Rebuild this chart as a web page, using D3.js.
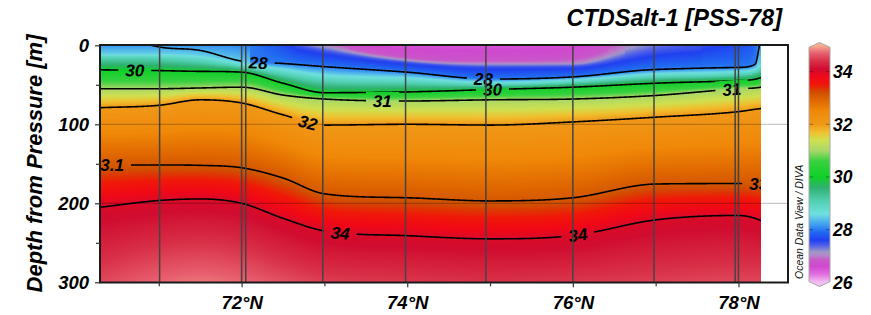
<!DOCTYPE html>
<html><head><meta charset="utf-8">
<script src="https://cdn.jsdelivr.net/npm/d3@7"></script>
<style>
html,body{margin:0;padding:0;background:#fff;}
svg{display:block;font-family:"Liberation Sans",Arial,sans-serif;}
</style></head><body>
<svg id="chart" width="871" height="315"></svg>
<script>
// ---------------- data ----------------
const gridLats   = [70.29, 71.0, 71.5, 72.0, 72.5, 73.0, 74.0, 75.0, 76.0, 77.0, 78.0, 78.2, 78.27];
const surfaceSal = [28.15, 28.15, 28.12, 28.05, 27.7, 27.05, 26.5, 26.5, 26.55, 27.3, 27.7, 27.9, 28.25];
const bottomSal  = [34.55, 34.72, 34.78, 34.72, 34.6, 34.5, 34.45, 34.42, 34.45, 34.5, 34.55, 34.55, 34.55];
const isoLevels  = [26.8, 27, 27.5, 28, 28.5, 29, 30, 31, 32, 33.1, 34];
const depth26_8  = [-80, -70, -60, -50, -35, -6, 15, 19, 16, -20, -40, -50, -55];
const depth27    = [-60, -50, -45, -40, -25, -2, 18, 22.5, 22, -10, -30, -40, -45];
const depth27_5  = [-50, -40, -30, -15, -3, 8, 22, 27.5, 27, 9, -5, -15, -25];
const depth28    = [-20, 2, 6.5, 20, 23, 27, 34, 42.7, 40, 30.6, 28, 24, -10];
const depth28_5  = [11, 11, 13, 22, 29, 36, 40, 46, 43, 35, 32, 29, 22];
const depth29    = [15, 16, 20, 27, 36, 44, 47, 50, 47, 40, 37, 34, 30];
const depth30    = [31, 32, 33, 34, 48, 60, 59, 56, 53, 48, 44.5, 43, 41];
const depth31    = [55, 55, 54, 53, 63, 68, 70.5, 69, 68, 63.5, 55, 54, 53];
const depth32    = [79, 76, 69, 73, 88, 101, 100, 101, 97, 91, 84, 81, 80];
const depth33    = [151.5, 151.5, 152, 155, 168, 188, 193, 197, 193, 175.6, 175, 175, 175];
const depth34    = [205, 196.5, 194.5, 200, 219, 235, 241, 245, 240.8, 221, 215.4, 219, 222];
const isoDepths  = [depth26_8, depth27, depth27_5, depth28, depth28_5, depth29, depth30, depth31, depth32, depth33, depth34];

const contourLevels = [28, 30, 31, 32, 33.1, 34];
const labelLevel = [30, 28, 32, 31, 28, 30, 31, 33.1, 33.1, 34, 34];
const labelLat   = [70.71, 72.2, 72.8, 73.7, 74.92, 75.03, 77.92, 70.38, 78.33, 73.19, 76.06];
const labelText  = ["30", "28", "32", "31", "28", "30", "31", "33.1", "33.1", "34", "34"];

const stationLats = [71.01, 72.0, 72.05, 72.98, 73.98, 74.95, 76.0, 76.98, 77.96, 78.0];
const xTicksMajor = [72, 74, 76, 78];
const xTicksMinor = [71, 73, 75, 77];
const yTicksMajor = [0, 100, 200, 300];
const yTicksMinor = [50, 150, 250];
const gridDepths  = [100, 200];
const cbarTicks   = [26, 28, 30, 32, 34];

const salStops  = [26.0, 26.3, 26.6, 26.85, 27.0, 27.15, 27.4, 27.6, 27.9, 28.2, 28.6, 29.1, 29.6, 30.0, 30.6, 31.0, 31.4, 31.7, 32.0, 32.5, 32.9, 33.2, 33.5, 33.8, 34.1, 34.4, 34.7, 35.0];
const salColors = ["#f4c0f4","#e070e0","#d048d0","#c858c8","#b880c8","#a098c8","#5060e8","#2040f0","#2068f0","#40a0f0","#70e0e0","#50d0b0","#30b070","#10d028","#38d040","#a8d868","#d0e050","#f0c030","#f09818","#f08808","#e06800","#d05000","#f01808","#f00818","#d00c30","#d83048","#e86070","#f8b090"];

// ---------------- layout ----------------
const svg = d3.select("#chart");
const X0 = 100, XR = 788, XD = 761, Y0 = 45.3, Y1 = 282.3;
const x = d3.scaleLinear().domain([70.29, 78.598]).range([X0, XR]);
const y = d3.scaleLinear().domain([0, 300]).range([Y0, Y1]);
const color = d3.scaleLinear().domain(salStops).range(salColors).clamp(true);
const latEnd = x.invert(XD);

// monotone cubic interpolation across latitude (display smoothing)
function monotone(xs, ys) {
  const n = xs.length, d = [], m = new Array(n);
  for (let i = 0; i < n - 1; i++) d.push((ys[i+1]-ys[i])/(xs[i+1]-xs[i]));
  m[0] = d[0]; m[n-1] = d[n-2];
  for (let i = 1; i < n - 1; i++) m[i] = (d[i-1]*d[i] <= 0) ? 0 : (d[i-1]+d[i])/2;
  for (let i = 0; i < n - 1; i++) {
    if (d[i] === 0) { m[i] = 0; m[i+1] = 0; continue; }
    const a = m[i]/d[i], b = m[i+1]/d[i], s = a*a + b*b;
    if (s > 9) { const t = 3/Math.sqrt(s); m[i] = t*a*d[i]; m[i+1] = t*b*d[i]; }
  }
  return v => {
    if (v <= xs[0]) return ys[0];
    if (v >= xs[n-1]) return ys[n-1];
    const i = Math.min(n-2, d3.bisectRight(xs, v) - 1);
    const h = xs[i+1]-xs[i], t = (v-xs[i])/h, t2 = t*t, t3 = t2*t;
    return (2*t3-3*t2+1)*ys[i] + (t3-2*t2+t)*h*m[i] + (-2*t3+3*t2)*ys[i+1] + (t3-t2)*h*m[i+1];
  };
}
const fS0 = monotone(gridLats, surfaceSal);
const fSb = monotone(gridLats, bottomSal);
const fIso = isoDepths.map(a => monotone(gridLats, a));
const isoFn = lvl => fIso[isoLevels.indexOf(lvl)];

function profileAt(lat) {
  const pts = [[0, fS0(lat)]];
  isoLevels.forEach((L, k) => {
    const dd = fIso[k](lat), last = pts[pts.length-1];
    if (dd > last[0] && dd < 300 && L > last[1]) pts.push([dd, L]);
  });
  const last = pts[pts.length-1];
  pts.push([300, Math.max(fSb(lat), last[1])]);
  return pts;
}

// ---------------- colour field (raster image) ----------------
const W = XD - X0, H = Math.round(Y1 - Y0);
const cv = document.createElement("canvas");
cv.width = W; cv.height = H;
const ctx = cv.getContext("2d");
const img = ctx.createImageData(W, H);
for (let i = 0; i < W; i++) {
  const lat = x.invert(X0 + i + 0.5);
  const pts = profileAt(lat);
  let k = 0;
  for (let j = 0; j < H; j++) {
    const dep = y.invert(Y0 + j + 0.5);
    while (k < pts.length - 2 && dep > pts[k+1][0]) k++;
    const a = pts[k], b = pts[k+1];
    const t = Math.max(0, Math.min(1, (dep - a[0])/(b[0]-a[0])));
    const v = a[1] + t*(b[1]-a[1]);
    const c = d3.rgb(color(v));
    const o = (j*W + i)*4;
    img.data[o] = c.r; img.data[o+1] = c.g; img.data[o+2] = c.b; img.data[o+3] = 255;
  }
}
ctx.putImageData(img, 0, 0);

const defs = svg.append("defs");
defs.append("clipPath").attr("id", "dataClip")
  .append("rect").attr("x", X0).attr("y", Y0).attr("width", XD - X0).attr("height", Y1 - Y0);

svg.append("image").attr("x", X0).attr("y", Y0).attr("width", W).attr("height", H)
  .attr("preserveAspectRatio", "none").attr("href", cv.toDataURL());

// ---------------- contour lines with label gaps ----------------
const labels = labelLevel.map((lv, i) => {
  const lat = labelLat[i], f = isoFn(lv);
  const px = x(lat), py = y(f(lat));
  const dy = y(f(lat + 0.05)) - y(f(lat - 0.05)), dx = x(lat + 0.05) - x(lat - 0.05);
  const ang = Math.atan2(dy, dx) * 180 / Math.PI;
  return {px, py, ang, text: labelText[i]};
});
const mask = defs.append("mask").attr("id", "labelMask").attr("maskUnits", "userSpaceOnUse")
  .attr("x", 0).attr("y", 0).attr("width", 871).attr("height", 315);
mask.append("rect").attr("width", 871).attr("height", 315).attr("fill", "#fff");

const lineGen = d3.line().x(d => x(d[0])).y(d => y(d[1]));
const cg = svg.append("g").attr("clip-path", "url(#dataClip)");
const lg = cg.append("g").attr("mask", "url(#labelMask)");
const step = (latEnd - 70.29) / 1400;
contourLevels.forEach(lv => {
  const f = isoFn(lv);
  const pts = d3.range(70.29, latEnd + step, step).map(la => [la, f(la)]);
  lg.append("path").attr("d", lineGen(pts)).attr("fill", "none")
    .attr("stroke", "#000").attr("stroke-width", 1.6).attr("stroke-linejoin", "round");
});

const tg = cg.append("g");
labels.forEach(l => {
  const t = tg.append("text").attr("transform", `translate(${l.px},${l.py}) rotate(${l.ang})`)
    .attr("text-anchor", "middle").attr("dy", "0.36em")
    .attr("font-size", 17).attr("font-weight", "bold").attr("font-style", "italic")
    .attr("fill", "#000").text(l.text);
  const w = t.node().getComputedTextLength();
  mask.append("rect").attr("x", -w/2 - 7).attr("y", -9).attr("width", w + 14).attr("height", 18)
    .attr("fill", "#000").attr("transform", `translate(${l.px},${l.py}) rotate(${l.ang})`);
});

// ---------------- station lines & grid ----------------
svg.append("g").selectAll("line").data(stationLats).join("line")
  .attr("x1", d => x(d)).attr("x2", d => x(d)).attr("y1", Y0).attr("y2", Y1)
  .attr("stroke", "#444").attr("stroke-width", 1.5);
svg.append("g").selectAll("line").data(gridDepths).join("line")
  .attr("x1", X0).attr("x2", XR).attr("y1", d => y(d)).attr("y2", d => y(d))
  .attr("stroke", "#000").attr("stroke-opacity", 0.27).attr("stroke-width", 1);

// ---------------- frame & axes ----------------
svg.append("rect").attr("x", X0).attr("y", 45).attr("width", XR - X0).attr("height", 237.5)
  .attr("fill", "none").attr("stroke", "#1a1a1a").attr("stroke-width", 2);

const styleAxis = g => {
  g.select(".domain").remove();
  g.selectAll(".tick line").attr("stroke", "#333").attr("stroke-width", 1.2);
  g.selectAll("text").attr("font-size", 18.5).attr("font-weight", "bold")
    .attr("font-style", "italic").attr("fill", "#000").attr("font-family", "Liberation Sans, Arial, sans-serif");
};
svg.append("g").attr("transform", `translate(0,${Y1})`)
  .call(d3.axisBottom(x).tickValues(xTicksMajor).tickFormat(d => d + "°N").tickSize(5).tickPadding(9)).call(styleAxis);
svg.append("g").attr("transform", `translate(0,${Y1})`)
  .call(d3.axisBottom(x).tickValues(xTicksMinor).tickFormat("").tickSize(4)).call(styleAxis);
svg.append("g").attr("transform", `translate(${X0},0)`)
  .call(d3.axisLeft(y).tickValues(yTicksMajor).tickSize(5).tickPadding(6)).call(styleAxis);
svg.append("g").attr("transform", `translate(${X0},0)`)
  .call(d3.axisLeft(y).tickValues(yTicksMinor).tickFormat("").tickSize(4)).call(styleAxis);

// titles
svg.append("text").attr("x", 782).attr("y", 26).attr("text-anchor", "end")
  .attr("font-size", 23.5).attr("font-weight", "bold").attr("font-style", "italic")
  .text("CTDSalt-1 [PSS-78]");
svg.append("text").attr("transform", "translate(42,163.5) rotate(-90)").attr("text-anchor", "middle")
  .attr("font-size", 22).attr("font-weight", "bold").attr("font-style", "italic")
  .text("Depth from Pressure [m]");
svg.append("text").attr("transform", "translate(803,279) rotate(-90)").attr("text-anchor", "start")
  .attr("font-size", 10.5).attr("font-style", "italic").attr("fill", "#111")
  .text("Ocean Data View / DIVA");

// ---------------- colour bar ----------------
const CB0 = 809, CB1 = 830, CBM = (CB0 + CB1) / 2;
const cy = d3.scaleLinear().domain([26, 35]).range([Y1, Y0]);
const cbPath = `M${CB0},47.3 L${CBM},42.5 L${CB1},47.3 L${CB1},281.7 L${CBM},286.5 L${CB0},281.7 Z`;
defs.append("clipPath").attr("id", "cbClip").append("path").attr("d", cbPath);
const cbg = svg.append("g").attr("clip-path", "url(#cbClip)");
cbg.selectAll("rect").data(d3.range(42, 287, 1)).join("rect")
  .attr("x", CB0).attr("width", CB1 - CB0).attr("y", d => d).attr("height", 1.2)
  .attr("fill", d => color(cy.invert(d + 0.5)));
cbg.selectAll("line.l").data(cbarTicks.slice(1)).join("line")
  .attr("x1", CB0).attr("x2", CB0 + 4).attr("y1", d => cy(d)).attr("y2", d => cy(d))
  .attr("stroke", "#000").attr("stroke-opacity", 0.35);
cbg.selectAll("line.r").data(cbarTicks.slice(1)).join("line")
  .attr("x1", CB1 - 4).attr("x2", CB1).attr("y1", d => cy(d)).attr("y2", d => cy(d))
  .attr("stroke", "#000").attr("stroke-opacity", 0.35);
svg.append("path").attr("d", cbPath).attr("fill", "none").attr("stroke", "#a8a8a8").attr("stroke-width", 1);
svg.append("g").selectAll("text").data(cbarTicks).join("text")
  .attr("x", 833).attr("y", d => cy(d)).attr("dy", "0.36em")
  .attr("font-size", 17.5).attr("font-weight", "bold").attr("font-style", "italic")
  .text(d => d);
</script>
</body></html>
